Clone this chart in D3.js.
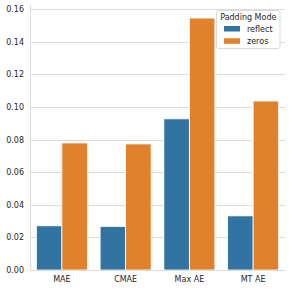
<!DOCTYPE html>
<html><head><meta charset="utf-8">
<script src="https://cdn.jsdelivr.net/npm/d3@7"></script>
<style>body{margin:0;background:#fff}svg{display:block}text{font-family:"DejaVu Sans",sans-serif;fill:#262626}</style>
</head><body><svg id="c" width="291" height="290"></svg>
<script>
const categories = ["MAE", "CMAE", "Max AE", "MT AE"];
const series = ["reflect", "zeros"];
const reflectValues = [0.0271, 0.0267, 0.0927, 0.0332];
const zerosValues = [0.0779, 0.0773, 0.1545, 0.1036];
const yTicks = [0, 0.02, 0.04, 0.06, 0.08, 0.10, 0.12, 0.14, 0.16];
const legendTitle = "Padding Mode";
const colors = ["#3274a1", "#e1812c"];

const svg = d3.select("#c");
const m = {l: 30, r: 6, t: 5, b: 20};
const W = 291, H = 290;
const x = d3.scaleBand().domain(categories).range([m.l, W - m.r]).paddingInner(0.2).paddingOuter(0.1);
const x1 = d3.scaleBand().domain(series).range([0, x.bandwidth()]);
const y = d3.scaleLinear().domain([0, 0.1625]).range([H - m.b, m.t]);

// grid
svg.append("g").selectAll("line").data(yTicks).join("line")
  .attr("x1", m.l).attr("x2", W - m.r)
  .attr("y1", d => Math.round(y(d)) + 0.5).attr("y2", d => Math.round(y(d)) + 0.5)
  .attr("stroke", "#dcdcdc").attr("stroke-width", 1);

// y tick labels
const yAxis = d3.axisLeft(y).tickValues(yTicks).tickFormat(d3.format(".2f")).tickSize(0).tickPadding(6);
const ga = svg.append("g").attr("transform", `translate(${m.l},0)`).call(yAxis);
ga.select(".domain").remove();
ga.selectAll("text").attr("font-size", 8).attr("fill", "#262626").attr("font-family", "DejaVu Sans");

// bars
const data = categories.map((c, i) => ({c, vals: [reflectValues[i], zerosValues[i]]}));
const g = svg.append("g");
data.forEach(d => {
  d.vals.forEach((v, j) => {
    g.append("rect")
      .attr("x", x(d.c) + x1(series[j]))
      .attr("width", x1.bandwidth())
      .attr("y", y(v)).attr("height", y(0) - y(v))
      .attr("fill", colors[j]).attr("stroke", "#fff").attr("stroke-width", 0.8);
  });
});

// spines
svg.append("line").attr("x1", m.l + 0.5).attr("x2", m.l + 0.5).attr("y1", m.t).attr("y2", y(0)).attr("stroke", "#dcdcdc");
svg.append("line").attr("x1", m.l).attr("x2", W - m.r).attr("y1", Math.round(y(0)) + 0.5).attr("y2", Math.round(y(0)) + 0.5).attr("stroke", "#dcdcdc");

// x labels
const xAxis = d3.axisBottom(x).tickSize(0).tickPadding(6);
const gx = svg.append("g").attr("transform", `translate(0,${y(0)})`).call(xAxis);
gx.select(".domain").remove();
gx.selectAll("text").attr("font-size", 8).attr("fill", "#262626").attr("font-family", "DejaVu Sans");

// legend
const lg = svg.append("g");
lg.append("rect").attr("x", 216.5).attr("y", 10.5).attr("width", 63.5).attr("height", 38)
  .attr("rx", 2).attr("fill", "#fff").attr("fill-opacity", 0.8).attr("stroke", "#d0d0d0").attr("stroke-width", 0.8);
lg.append("text").attr("x", 248.3).attr("y", 19.5).attr("text-anchor", "middle").attr("font-size", 8).text(legendTitle);
series.forEach((s, j) => {
  const cy = 28.5 + j * 12.3;
  lg.append("rect").attr("x", 224).attr("y", cy - 2.5).attr("width", 16).attr("height", 5.5).attr("fill", colors[j]);
  lg.append("text").attr("x", 247).attr("y", cy + 3).attr("font-size", 8).text(s);
});
</script></body></html>
